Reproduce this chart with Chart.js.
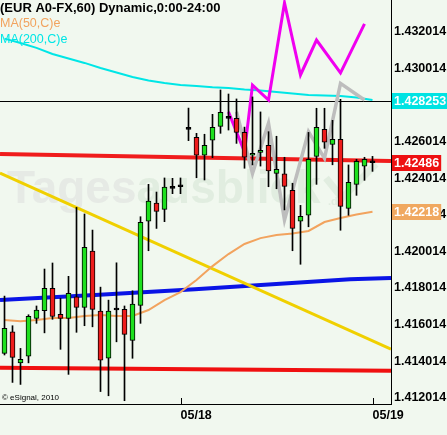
<!DOCTYPE html>
<html lang="en">
<head>
<meta charset="UTF-8">
<title>EUR A0-FX,60</title>
<script src="https://cdn.jsdelivr.net/npm/chart.js"></script>
<style>
  body { margin: 0; padding: 0; background: #f1f8ef; }
  #wrap { width: 447px; height: 435px; }
</style>
</head>
<body>
<div id="wrap"><canvas id="myChart" width="447" height="435"></canvas></div>
<script>
// hourly candles, index 22 = 05/18 00:00, index 46 = 05/19 00:00
const opens  = [1.41444, 1.41562, 1.41392, 1.41429, 1.41635, 1.41677, 1.41799, 1.41657, 1.41635, 1.41753,
                1.41695, 1.42003, 1.41675, 1.41417, 1.41681, 1.41684, 1.41515, 1.41706, 1.42166, 1.42266,
                1.42231, 1.42346, 1.42355, 1.42669, 1.42625, 1.42527, 1.42609, 1.42685, 1.42729, 1.42729,
                1.42652, 1.42527, 1.42543, 1.42581, 1.42428, 1.42426, 1.42335, 1.42166, 1.42199, 1.42521,
                1.42669, 1.42587, 1.42614, 1.42237, 1.42368, 1.42467, 1.42486];
const highs  = [1.41757, 1.41595, 1.41471, 1.41655, 1.41703, 1.41905, 1.41938, 1.41745, 1.41865, 1.42242,
                1.42206, 1.42118, 1.41806, 1.41735, 1.41939, 1.41703, 1.41786, 1.42191, 1.42368, 1.42326,
                1.42403, 1.42401, 1.42403, 1.42785, 1.42647, 1.42642, 1.42751, 1.42884, 1.42862, 1.42835,
                1.42681, 1.42846, 1.42764, 1.42656, 1.42631, 1.42516, 1.42374, 1.42253, 1.42652, 1.42784,
                1.42784, 1.42718, 1.42833, 1.42474, 1.42505, 1.42516, 1.42521];
const lows   = [1.41435, 1.41285, 1.41274, 1.41392, 1.41608, 1.41556, 1.41630, 1.41466, 1.41329, 1.41559,
                1.41595, 1.41589, 1.41235, 1.41212, 1.41507, 1.41185, 1.41417, 1.41608, 1.42005, 1.42127,
                1.42164, 1.42317, 1.42317, 1.42607, 1.42404, 1.42392, 1.42514, 1.42647, 1.42665, 1.42592,
                1.42456, 1.42474, 1.42468, 1.42355, 1.42344, 1.42228, 1.42005, 1.41931, 1.42136, 1.42368,
                1.42565, 1.42475, 1.42117, 1.42199, 1.42308, 1.42390, 1.42439];
const closes = [1.41581, 1.41422, 1.41411, 1.41646, 1.41681, 1.41799, 1.41646, 1.41635, 1.41772, 1.41695,
                1.42024, 1.41684, 1.41406, 1.41675, 1.41681, 1.41548, 1.41713, 1.42160, 1.42277, 1.42220,
                1.42353, 1.42346, 1.42355, 1.42669, 1.42527, 1.42581, 1.42680, 1.42762, 1.42729, 1.42652,
                1.42516, 1.42538, 1.42554, 1.42441, 1.42450, 1.42357, 1.42127, 1.42193, 1.42505, 1.42680,
                1.42598, 1.42614, 1.42248, 1.42379, 1.42494, 1.42505, 1.42486];

// moving averages, read every second candle
const maX   = [0, 2, 4, 6, 8, 10, 12, 14, 16, 18, 20, 22, 24, 26, 28, 30, 32, 34, 36, 38, 40, 42, 44, 46];
const ma50  = [1.41626, 1.41620, 1.41626, 1.41637, 1.41637, 1.41648, 1.41653, 1.41648, 1.41648, 1.41681,
               1.41735, 1.41779, 1.41845, 1.41921, 1.41987, 1.42042, 1.42074, 1.42091, 1.42099, 1.42113,
               1.42162, 1.42184, 1.42203, 1.42218];
const ma200 = [1.43165, 1.43141, 1.43114, 1.43081, 1.43056, 1.43032, 1.43004, 1.42980, 1.42955, 1.42936,
               1.42922, 1.42911, 1.42906, 1.42899, 1.42895, 1.42887, 1.42881, 1.42873, 1.42865, 1.42856,
               1.42854, 1.42851, 1.42843, 1.42829];

// zigzags
const pinkX = [28, 30, 31, 33, 35, 37, 39, 42, 45];
const pinkY = [1.42764, 1.42545, 1.42911, 1.42829, 1.43360, 1.42966, 1.43157, 1.42977, 1.43245];
const greyX = [29, 31, 33, 35, 38, 40, 42, 45];
const greyY = [1.42765, 1.42428, 1.42702, 1.42173, 1.42656, 1.42510, 1.42920, 1.42829];

// drawn trend lines, edge to edge
const edgeX     = [-0.56, 48.31];
const yellowY   = [1.42430, 1.41467];
const redTopY   = [1.42534, 1.42496];
const redLowY   = [1.41365, 1.41349];
const blueX     = [-0.56, 11.31, 23.81, 43.19, 48.31];
const blueY     = [1.41735, 1.41763, 1.41795, 1.41849, 1.41856];

const dateTicks  = [22, 46];
const dateLabels = ['05/18', '05/19'];
const priceTicks = [1.412014, 1.414014, 1.416014, 1.418014, 1.420014, 1.422014,
                    1.424014, 1.426014, 1.428014, 1.430014, 1.432014];
const markValues = [1.428253, 1.42486, 1.42218];
const markLabels = ['1.428253', '1.42486', '1.42218'];

const FONT = '"Liberation Sans", Arial, sans-serif';
const BG = '#f1f8ef';

function zip(xs, ys) { return xs.map((x, i) => ({x: x, y: ys[i]})); }

function lineSet(xs, ys, color, width, order) {
  return {
    type: 'line', data: zip(xs, ys), borderColor: color, borderWidth: width,
    pointRadius: 0, tension: 0, fill: false, order: order
  };
}

// no automatic label padding, the plot runs to the canvas edge
function noPad(s) {
  s.paddingTop = 0; s.paddingBottom = 0; s.paddingLeft = 0; s.paddingRight = 0;
}

const bodyColors = opens.map((o, i) => closes[i] > o ? '#1ee01e' : (closes[i] < o ? '#ee1c1c' : '#000'));

const decor = {
  id: 'decor',
  beforeDraw(chart) {
    const ctx = chart.ctx;
    ctx.save();
    ctx.fillStyle = BG;
    ctx.fillRect(0, 0, chart.width, chart.height);
    ctx.restore();
  },
  beforeDatasetsDraw(chart) {
    const ctx = chart.ctx;
    const y = chart.scales.y;
    const area = chart.chartArea;
    ctx.save();
    // faint watermark
    ctx.font = 'bold 46px ' + FONT;
    ctx.textBaseline = 'alphabetic';
    ctx.fillStyle = '#e6eae5';
    ctx.fillText('Tages', 7, 203);
    const w = ctx.measureText('Tages').width;
    ctx.fillStyle = '#e1ede0';
    ctx.fillText('ausblick', 7 + w, 203);
    ctx.strokeStyle = '#e1ede0';
    ctx.lineWidth = 7;
    ctx.beginPath();
    ctx.moveTo(326, 178); ctx.lineTo(342, 198); ctx.lineTo(376, 164);
    ctx.stroke();
    ctx.font = 'bold 11px ' + FONT;
    ctx.fillText('.de', 328, 205);
    // line at the MA(200) value
    const py = Math.round(y.getPixelForValue(markValues[0])) + 0.5;
    ctx.strokeStyle = '#000';
    ctx.lineWidth = 1;
    ctx.beginPath();
    ctx.moveTo(area.left, py); ctx.lineTo(area.right, py);
    ctx.stroke();
    ctx.restore();
  },
  afterDraw(chart) {
    const ctx = chart.ctx;
    const x = chart.scales.x;
    const y = chart.scales.y;
    const area = chart.chartArea;
    ctx.save();
    // date tick marks
    ctx.strokeStyle = '#000';
    ctx.lineWidth = 1;
    dateTicks.forEach(v => {
      const px = Math.round(x.getPixelForValue(v)) + 0.5;
      ctx.beginPath();
      ctx.moveTo(px, area.bottom - 6); ctx.lineTo(px, area.bottom);
      ctx.stroke();
    });
    // title and legend
    ctx.textBaseline = 'middle';
    ctx.textAlign = 'left';
    ctx.font = 'bold 13px ' + FONT;
    ctx.fillStyle = '#000';
    ctx.fillText('(EUR A0-FX,60) Dynamic,0:00-24:00', 0, 8);
    ctx.font = '12.5px ' + FONT;
    ctx.fillStyle = '#f2a35e';
    ctx.fillText('MA(50,C)e', 0, 24);
    ctx.fillStyle = '#00e6e6';
    ctx.fillText('MA(200,C)e', 0, 40);
    ctx.font = '8px ' + FONT;
    ctx.fillStyle = '#000';
    ctx.fillText('\u00a9 eSignal, 2010', 2, 398);
    // price boxes on the axis
    const boxColors = ['#00e3e3', '#ee1111', '#f0a860'];
    ctx.font = 'bold 12.5px ' + FONT;
    markValues.forEach((v, i) => {
      const py = Math.round(y.getPixelForValue(v));
      const tw = ctx.measureText(markLabels[i]).width;
      ctx.fillStyle = boxColors[i];
      ctx.fillRect(area.right + 1, py - 8, tw + 4, 16);
      ctx.fillStyle = '#fff';
      ctx.fillText(markLabels[i], area.right + 3, py + 0.5);
    });
    ctx.restore();
  }
};

const ctx = document.getElementById('myChart').getContext('2d');
new Chart(ctx, {
  type: 'bar',
  data: {
    datasets: [
      {
        data: opens.map((o, i) => ({x: i, y: [o, closes[i]]})),
        backgroundColor: bodyColors, borderColor: '#000', borderWidth: 1,
        borderSkipped: false, barThickness: 5, minBarLength: 2, grouped: false, order: 0
      },
      {
        data: highs.map((h, i) => ({x: i, y: [lows[i], h]})),
        backgroundColor: '#000', borderWidth: 0,
        barThickness: 1, grouped: false, order: 1
      },
      lineSet(pinkX, pinkY, '#f000f0', 3, 2),
      lineSet(greyX, greyY, '#bdbdbd', 3.5, 3),
      lineSet(maX, ma200, '#00e6e6', 2, 3),
      lineSet(maX, ma50, '#f2a35e', 2, 3),
      lineSet(edgeX, yellowY, '#f0d000', 3, 4),
      lineSet(blueX, blueY, '#0a14e6', 4, 5),
      lineSet(edgeX, redTopY, '#f01c1c', 4, 6),
      lineSet(edgeX, redLowY, '#f01010', 4, 6)
    ]
  },
  options: {
    responsive: false,
    devicePixelRatio: 1,
    animation: false,
    events: [],
    layout: { padding: 0, autoPadding: false },
    plugins: { legend: { display: false }, tooltip: { enabled: false } },
    scales: {
      x: {
        type: 'linear', min: -0.5625, max: 48.3125, offset: false, bounds: 'data',
        grid: { display: false, drawTicks: false },
        border: { display: true, color: '#000', width: 1 },
        afterBuildTicks: s => { s.ticks = dateTicks.map(v => ({value: v})); },
        afterFit: s => { s.height = 31; noPad(s); },
        ticks: {
          autoSkip: false, maxRotation: 0, align: 'start', padding: 4,
          color: '#000', font: { family: FONT, size: 12.5, weight: 'bold' },
          callback: v => dateLabels[dateTicks.indexOf(v)]
        }
      },
      y: {
        type: 'linear', position: 'right', min: 1.41167, max: 1.43376,
        beginAtZero: false, bounds: 'data',
        grid: { display: false, drawTicks: false },
        border: { display: true, color: '#000', width: 1 },
        afterBuildTicks: s => { s.ticks = priceTicks.map(v => ({value: v})); },
        afterFit: s => { s.width = 56; noPad(s); },
        ticks: {
          autoSkip: false, padding: 3,
          color: '#000', font: { family: FONT, size: 12.5, weight: 'bold' },
          callback: v => v.toFixed(6)
        }
      }
    }
  },
  plugins: [decor]
});
</script>
</body>
</html>
